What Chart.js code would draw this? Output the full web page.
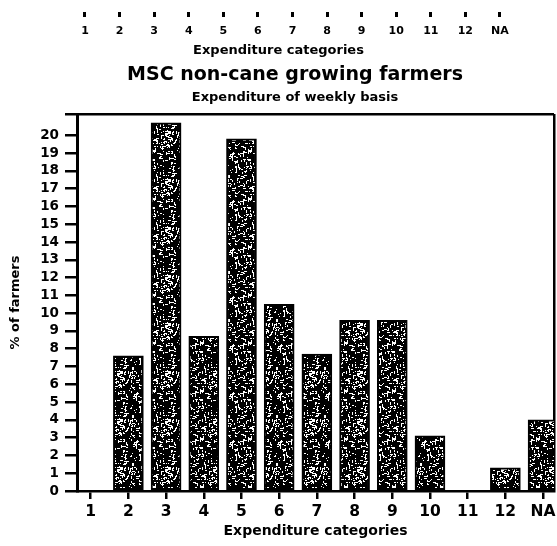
<!DOCTYPE html>
<html>
<head>
<meta charset="utf-8">
<script src="https://cdn.jsdelivr.net/npm/chart.js@4/dist/chart.umd.min.js"></script>
<style>
  html, body { margin: 0; padding: 0; background: #fff; overflow: hidden; width: 557px; height: 546px; }
  #wrap { position: relative; width: 557px; height: 546px; overflow: hidden; }
  canvas { position: absolute; left: 0; top: 0; }
</style>
</head>
<body>
<div id="wrap">
  <canvas id="main" width="590" height="546"></canvas>
  <canvas id="top" width="557" height="60"></canvas>
</div>
<script>
// ---- data ----
const categories = ['1', '2', '3', '4', '5', '6', '7', '8', '9', '10', '11', '12', 'NA'];
const percentFarmers = [0, 7.6, 20.7, 8.7, 19.8, 10.5, 7.7, 9.6, 9.6, 3.1, 0, 1.3, 4.0];
const yTickValues = [0, 1, 2, 3, 4, 5, 6, 7, 8, 9, 10, 11, 12, 13, 14, 15, 16, 17, 18, 19, 20];
const topAxisLabels = ['1', '2', '3', '4', '5', '6', '7', '8', '9', '10', '11', '12', 'NA'];
const titleText = 'MSC non-cane growing farmers';
const subtitleText = 'Expenditure of weekly basis';
const xTitle = 'Expenditure categories';
const yTitle = '% of farmers';

const FONT = '"DejaVu Sans", "Open Sans", sans-serif';
const W = 'bold';

// stipple texture for bars (deterministic)
function makePattern() {
  const c = document.createElement('canvas');
  c.width = 48; c.height = 48;
  const g = c.getContext('2d');
  g.fillStyle = '#000';
  g.fillRect(0, 0, 48, 48);
  g.fillStyle = '#fff';
  function h(n) { const s = Math.sin(n * 12.9898 + 78.233) * 43758.5453; return s - Math.floor(s); }
  for (let i = 0; i < 280; i++) {
    const x = Math.floor(h(i) * 48), y = Math.floor(h(i + 500) * 48);
    const dir = h(i + 1000) < 0.5;
    const len = 1 + Math.floor(h(i + 1500) * 3);
    if (dir) g.fillRect(x, y, len, 1); else g.fillRect(x, y, 1, len);
  }
  return g.createPattern(c, 'repeat');
}
const stipple = makePattern();

const yMax = 21.2;
const xMin = 0.637, xMax = 13.29;
const padLeft = 36;

new Chart(document.getElementById('main'), {
  type: 'bar',
  data: {
    datasets: [{
      data: percentFarmers.map((v, i) => ({ x: i + 1, y: v })),
      backgroundColor: stipple,
      borderColor: '#000',
      borderWidth: 2,
      borderSkipped: false,
      barThickness: 30
    }]
  },
  options: {
    responsive: false,
    animation: false,
    layout: { padding: { top: 60, right: 36, left: padLeft, bottom: 0 } },
    plugins: {
      legend: { display: false },
      tooltip: { enabled: false },
      title: {
        display: true, text: titleText, color: '#000',
        font: { family: FONT, size: 19, weight: W, lineHeight: 1.2 },
        padding: { top: 4, bottom: 3 }
      },
      subtitle: {
        display: true, text: subtitleText, color: '#000',
        font: { family: FONT, size: 13, weight: W, lineHeight: 1.2 },
        padding: { top: 0, bottom: 8.6 }
      }
    },
    scales: {
      x: {
        type: 'linear', position: 'bottom', min: xMin, max: xMax, offset: false,
        afterFit: s => { s.height = 55; },
        afterBuildTicks: s => { s.ticks = categories.map((c, i) => ({ value: i + 1 })).concat([{ value: xMax }]); },
        ticks: {
          autoSkip: false, maxRotation: 0, padding: 4, color: '#000',
          font: { family: FONT, size: 15.5, weight: W, lineHeight: 1.2 },
          callback: v => (Number.isInteger(v) && v >= 1 && v <= categories.length) ? categories[v - 1] : ''
        },
        grid: {
          offset: false,
          drawOnChartArea: true, drawTicks: true, tickLength: 8, tickWidth: 2.5,
          color: ctx => (ctx.tick && ctx.tick.value === xMax) ? '#000' : 'rgba(0,0,0,0)',
          lineWidth: 2.5,
          tickColor: ctx => (ctx.tick && ctx.tick.value === xMax) ? 'rgba(0,0,0,0)' : '#000'
        },
        border: { display: true, color: '#000', width: 2.5 },
        title: {
          display: true, text: xTitle, color: '#000',
          font: { family: FONT, size: 14, weight: W, lineHeight: 1.2 },
          padding: { top: 0, bottom: 6 }
        }
      },
      y: {
        type: 'linear', min: 0, max: yMax,
        afterFit: s => { s.width = 77 - padLeft; },
        afterBuildTicks: s => { s.ticks = yTickValues.map(v => ({ value: v })).concat([{ value: yMax }]); },
        ticks: {
          autoSkip: false, padding: 6, color: '#000',
          font: { family: FONT, size: 13.5, weight: W, lineHeight: 1.2 },
          callback: v => yTickValues.includes(v) ? String(v) : ''
        },
        grid: {
          drawOnChartArea: true, drawTicks: true, tickLength: 12, tickWidth: 2.5,
          color: ctx => (ctx.tick && ctx.tick.value === yMax) ? '#000' : 'rgba(0,0,0,0)',
          lineWidth: 2.5,
          tickColor: '#000'
        },
        border: { display: true, color: '#000', width: 3 },
        title: {
          display: true, text: yTitle, color: '#000',
          font: { family: FONT, size: 13, weight: W, lineHeight: 1.2 },
          padding: { top: 8 - padLeft, bottom: 0 }
        }
      }
    }
  }
});

// stray axis from the preceding chart at the top of the page
const tMin = -1.458, tMax = 14.65;
new Chart(document.getElementById('top'), {
  type: 'bar',
  data: { datasets: [{ data: [] }] },
  options: {
    responsive: false,
    animation: false,
    layout: { padding: 0 },
    plugins: { legend: { display: false }, tooltip: { enabled: false } },
    scales: {
      x: {
        type: 'linear', position: 'bottom', min: tMin, max: tMax, offset: false,
        afterFit: s => { s.height = 48; },
        afterBuildTicks: s => { s.ticks = topAxisLabels.map((c, i) => ({ value: i + 1 })); },
        ticks: {
          autoSkip: false, maxRotation: 0, padding: 8, color: '#000',
          font: { family: FONT, size: 11, weight: W, lineHeight: 1.2 },
          callback: v => topAxisLabels[v - 1]
        },
        grid: { offset: false, drawOnChartArea: false, drawTicks: true, tickLength: 5, tickWidth: 3, tickColor: '#000', color: '#000' },
        border: { display: false },
        title: {
          display: true, text: xTitle, color: '#000',
          font: { family: FONT, size: 13, weight: W, lineHeight: 1.2 },
          padding: { top: 0, bottom: 2 }
        }
      },
      y: { display: false, min: 0, max: 1 }
    }
  }
});
</script>
</body>
</html>
